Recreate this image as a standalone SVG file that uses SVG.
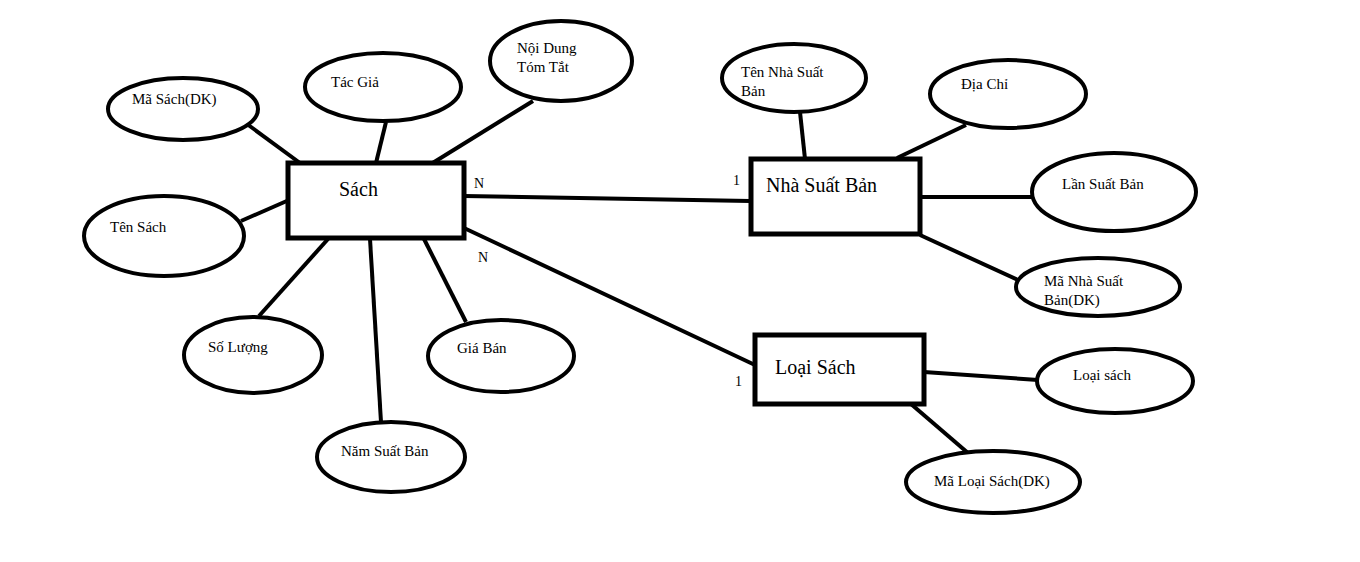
<svg xmlns="http://www.w3.org/2000/svg" width="1360" height="562" viewBox="0 0 1360 562">
<style>
.e{fill:#fff;stroke:#000;stroke-width:4}
.r{fill:#fff;stroke:#000;stroke-width:5}
.c line{stroke:#000;stroke-width:4}
text{font-family:"Liberation Serif","Times New Roman",serif;fill:#000}
.a{font-size:15px}
.t{font-size:20px}
.k{font-size:14px}
</style>
<rect width="1360" height="562" fill="#fff"/>
<g id="connectors" class="c">
<line x1="247" y1="124" x2="300" y2="163"/>
<line x1="386" y1="122" x2="376" y2="163"/>
<line x1="533" y1="101" x2="431" y2="164"/>
<line x1="241" y1="221" x2="289" y2="200"/>
<line x1="328" y1="239" x2="259" y2="316"/>
<line x1="370" y1="239" x2="381" y2="422"/>
<line x1="424" y1="239" x2="466" y2="322"/>
<line x1="464" y1="196" x2="750" y2="201"/>
<line x1="464" y1="228" x2="755" y2="365"/>
<line x1="800" y1="112" x2="805" y2="159"/>
<line x1="966" y1="125" x2="897" y2="158"/>
<line x1="920" y1="197" x2="1033" y2="197"/>
<line x1="920" y1="235" x2="1018" y2="280"/>
<line x1="924" y1="372" x2="1038" y2="380"/>
<line x1="911" y1="404" x2="968" y2="453"/>
</g>
<g id="sach"><rect class="r" x="288" y="163" width="176" height="75"/><text class="t" x="339" y="196">Sách</text></g>
<g id="nxb"><rect class="r" x="751" y="159" width="169" height="75"/><text class="t" x="766" y="192">Nhà Suất Bản</text></g>
<g id="loaisach"><rect class="r" x="755" y="335" width="169" height="69"/><text class="t" x="775" y="374">Loại Sách</text></g>
<g id="masach"><ellipse class="e" cx="183" cy="109" rx="75" ry="31"/><text class="a" x="132" y="104">Mã Sách(DK)</text></g>
<g id="tacgia"><ellipse class="e" cx="383" cy="87" rx="78" ry="34"/><text class="a" x="331" y="87">Tác Giả</text></g>
<g id="noidung"><ellipse class="e" cx="561" cy="61" rx="71" ry="40"/><text class="a" x="517" y="53">Nội Dung</text><text class="a" x="517" y="72">Tóm Tắt</text></g>
<g id="tensach"><ellipse class="e" cx="164" cy="236" rx="80" ry="40"/><text class="a" x="110" y="232">Tên Sách</text></g>
<g id="soluong"><ellipse class="e" cx="253" cy="355" rx="69" ry="38"/><text class="a" x="208" y="352">Số Lượng</text></g>
<g id="namxb"><ellipse class="e" cx="391" cy="457" rx="74" ry="35"/><text class="a" x="341" y="456">Năm Suất Bản</text></g>
<g id="giaban"><ellipse class="e" cx="501" cy="356" rx="73" ry="36"/><text class="a" x="457" y="353">Giá Bán</text></g>
<g id="tennxb"><ellipse class="e" cx="794" cy="78" rx="72" ry="34"/><text class="a" x="741" y="77">Tên Nhà Suất</text><text class="a" x="741" y="96">Bản</text></g>
<g id="diachi"><ellipse class="e" cx="1008" cy="94" rx="78" ry="34"/><text class="a" x="961" y="89">Địa Chỉ</text></g>
<g id="lanxb"><ellipse class="e" cx="1114" cy="192" rx="82" ry="39"/><text class="a" x="1062" y="189">Lần Suất Bản</text></g>
<g id="manxb"><ellipse class="e" cx="1098" cy="287" rx="82" ry="29"/><text class="a" x="1044" y="286">Mã Nhà Suất</text><text class="a" x="1044" y="305">Bản(DK)</text></g>
<g id="loaisach-attr"><ellipse class="e" cx="1115" cy="381" rx="78" ry="32"/><text class="a" x="1073" y="380">Loại sách</text></g>
<g id="maloai"><ellipse class="e" cx="993" cy="482" rx="87" ry="31"/><text class="a" x="934" y="486">Mã Loại Sách(DK)</text></g>
<g id="labels">
<text class="k" x="474" y="188">N</text>
<text class="k" x="478" y="262">N</text>
<text class="k" x="733" y="185">1</text>
<text class="k" x="735" y="386">1</text>
</g>
</svg>
